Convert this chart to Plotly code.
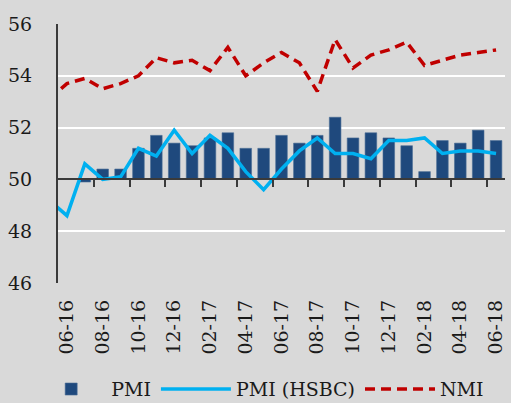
import plotly.graph_objects as go

# Months: index 0 = 06-16 ; 05-16 (index -1) feeds the line segments clipped at the left axis
months = ["05-16", "06-16", "07-16", "08-16", "09-16", "10-16", "11-16", "12-16",
          "01-17", "02-17", "03-17", "04-17", "05-17", "06-17", "07-17", "08-17",
          "09-17", "10-17", "11-17", "12-17", "01-18", "02-18", "03-18", "04-18",
          "05-18", "06-18"]
pmi = [50.1, 50.0, 49.9, 50.4, 50.4, 51.2, 51.7, 51.4, 51.3, 51.6, 51.8, 51.2, 51.2,
       51.7, 51.4, 51.7, 52.4, 51.6, 51.8, 51.6, 51.3, 50.3, 51.5, 51.4, 51.9, 51.5]
pmi_hsbc = [49.2, 48.6, 50.6, 50.0, 50.1, 51.2, 50.9, 51.9, 51.0, 51.7, 51.2, 50.3, 49.6,
            50.4, 51.1, 51.6, 51.0, 51.0, 50.8, 51.5, 51.5, 51.6, 51.0, 51.1, 51.1, 51.0]
nmi = [53.1, 53.7, 53.9, 53.5, 53.7, 54.0, 54.7, 54.5, 54.6, 54.2, 55.1, 54.0, 54.5,
       54.9, 54.5, 53.4, 55.4, 54.3, 54.8, 55.0, 55.3, 54.4, 54.6, 54.8, 54.9, 55.0]
tick_labels = ["06-16", "08-16", "10-16", "12-16", "02-17", "04-17", "06-17",
               "08-17", "10-17", "12-17", "02-18", "04-18", "06-18"]
y_ticks = [46, 48, 50, 52, 54, 56]
BASE = 50

xs = list(range(-1, len(months) - 1))
label_pos = [xs[months.index(m)] for m in tick_labels]
boundary_ticks = [p + 1.5 for p in label_pos[:-1]]

FONT = "DejaVu Serif"

fig = go.Figure()
fig.add_trace(go.Bar(
    x=xs, y=[v - BASE for v in pmi], base=BASE, name="PMI",
    marker=dict(color="#1F497D", line=dict(color="#4A6D96", width=0.6)),
    width=0.65,
))
fig.add_trace(go.Scatter(
    x=xs, y=pmi_hsbc, name="PMI (HSBC)", mode="lines",
    line=dict(color="#00B0F0", width=3.5),
))
fig.add_trace(go.Scatter(
    x=xs, y=nmi, name="NMI", mode="lines", xaxis="x2",
    line=dict(color="#C00000", width=3.5, dash="10px,6px"),
))

fig.update_layout(
    width=511, height=403,
    paper_bgcolor="#D9D9D9", plot_bgcolor="#D9D9D9",
    margin=dict(l=58, r=6, t=24, b=120, autoexpand=False),
    font=dict(family=FONT, size=19, color="#1a1a1a"),
    showlegend=True,
    legend=dict(orientation="h", x=-0.06, xanchor="left", y=-0.41, yanchor="middle",
                font=dict(family=FONT, size=19), bgcolor="rgba(0,0,0,0)",
                itemwidth=70, tracegroupgap=0),
    bargap=0.35,
    xaxis=dict(
        range=[-0.5, 24.5], tickmode="array", tickvals=label_pos, ticktext=tick_labels,
        tickangle=-90, showgrid=False, zeroline=False, showline=False, ticks="",
        ticklabelstandoff=12, tickfont=dict(family=FONT, size=19), automargin=False,
    ),
    xaxis2=dict(
        overlaying="x", anchor="free", position=0.4, range=[-0.5, 24.5],
        showline=True, linecolor="#3a3a3a", linewidth=1.5,
        tickmode="array", tickvals=boundary_ticks, ticks="outside", ticklen=7,
        tickcolor="#3a3a3a", tickwidth=1.5, showticklabels=False,
        showgrid=False, zeroline=False, automargin=False,
    ),
    yaxis=dict(
        range=[46, 56], tickmode="array", tickvals=y_ticks,
        showgrid=True, gridcolor="#FFFFFF", gridwidth=1.5,
        zeroline=False, showline=True, linecolor="#3a3a3a", linewidth=2,
        ticks="", ticklabelstandoff=20, tickfont=dict(family=FONT, size=19),
        automargin=False,
    ),
)

fig.write_html(
    "out.html",
    config={"displayModeBar": False},
    post_script="document.body.style.margin='0';document.body.style.background='#D9D9D9';",
)
